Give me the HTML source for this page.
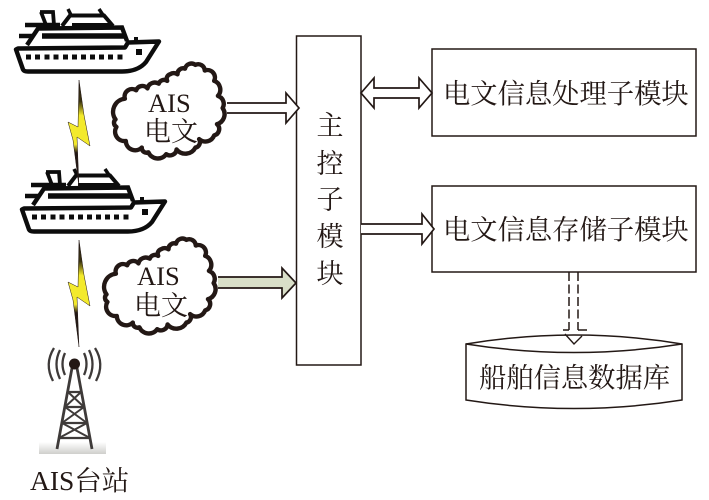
<!DOCTYPE html>
<html>
<head>
<meta charset="utf-8">
<style>
html,body{margin:0;padding:0;background:#fff;}
svg{display:block;}
text{fill:#231815;font-family:"Liberation Serif","Noto Serif CJK SC",serif;}
</style>
</head>
<body>
<svg width="709" height="500" viewBox="0 0 709 500" xmlns="http://www.w3.org/2000/svg">
<defs>
<linearGradient id="g" x1="0" y1="0" x2="0" y2="1"><stop offset="0" stop-color="#fff"/><stop offset="1" stop-color="#cfcfcc"/></linearGradient>
<linearGradient id="bolt" x1="0" y1="0" x2="0" y2="1">
<stop offset="0" stop-color="#231815"/><stop offset="0.2" stop-color="#3a3210"/><stop offset="0.33" stop-color="#f3ea2c"/><stop offset="0.6" stop-color="#f3ea2c"/><stop offset="0.68" stop-color="#231815"/><stop offset="1" stop-color="#231815"/>
</linearGradient>
<g id="ship" fill="none" stroke="#0c0c0c" stroke-width="4.400">
<path d="M16 49.500 L23 69.500 Q24 71.500 28 71.500 L122 71.500 Q138 71.500 146 62 L159 41.500 L128 42.500 L125 47.500 L18 48.500 Z" fill="#fff" stroke-linejoin="round"/>
<path d="M27 45 L38 28.500 L122 27.500 L127 41"/>
<path d="M42 36 L125 36" stroke-width="5.500"/>
<path d="M25 25 L60 25 M19 36 L34 36" stroke-width="4.500"/>
<path d="M41 12 L46 25 M40 12 L53 12 L54 25" stroke-width="3.800"/>
<path d="M62 26 L70 15.500 L104 15.500 L113 26" stroke-width="4"/>
<path d="M72 25.500 L111 25.500" stroke-width="5"/>
<path d="M68 9 L71 15 M99 9 L103 15" stroke-width="3.500"/>
<g fill="#0c0c0c" stroke="none">
<rect x="26" y="54.500" width="5" height="5"/><rect x="35" y="54.500" width="5" height="5"/><rect x="44.500" y="54.500" width="5" height="5"/><rect x="53.500" y="54.500" width="5" height="5"/><rect x="63" y="54.500" width="5" height="5"/><rect x="72" y="54.500" width="5" height="5"/><rect x="81" y="54.500" width="5" height="5"/><rect x="90" y="54.500" width="5" height="5"/><rect x="99" y="54.500" width="5" height="5"/><rect x="108" y="54.500" width="5" height="5"/><rect x="117.500" y="54.500" width="5" height="5"/>
<rect x="136" y="49" width="6" height="6"/>
<rect x="134" y="37" width="4" height="4"/>
</g>
</g>
<g id="cloud" transform="translate(170 110) scale(.94) translate(-170 -110)">
<path d="M112 120 A14 14 0 0 1 122 98 A8 8 0 0 1 134 89 A7 7 0 0 1 146 87 A8 8 0 0 1 158 82 A6 6 0 0 1 167 79 A5 5 0 0 1 170 72 A7 7 0 0 1 178 72 A6 6 0 0 1 186 66 A7 7 0 0 1 197 62 A7 7 0 0 1 207 68 A8 8 0 0 1 217 79 A10 10 0 0 1 221 95 A9 9 0 0 1 226 108 A11 11 0 0 1 220 125 A7 7 0 0 1 217 137 A10 10 0 0 1 201 141 A6 6 0 0 1 197 150 A12 12 0 0 1 177 152 A7 7 0 0 1 166 157 A11 11 0 0 1 147 155 A5 5 0 0 1 140 150 A10 10 0 0 1 123 143 A10 10 0 0 1 113 128 A5 5 0 0 1 112 120 Z" fill="#fff" stroke="#231815" stroke-width="4.700" stroke-linejoin="round"/>
</g>
</defs>

<use href="#ship"/>
<use href="#ship" x="6" y="160"/>

<path d="M79 80 L84 115 L90 146 L77 137 L79 187 L73 140 L68 122 L78 127 Z" fill="url(#bolt)" stroke="#231815" stroke-width="0.500"/>
<path d="M79 240 L84 275 L90 306 L77 297 L79 347 L73 300 L68 282 L78 287 Z" fill="url(#bolt)" stroke="#231815" stroke-width="0.500"/>

<!-- tower -->
<rect x="39" y="442" width="67" height="12" fill="url(#g)"/>
<g fill="none" stroke="#3e3a39" stroke-width="2.300">
<path d="M72 368 L57 449 M77 368 L92 449" stroke-width="2.800"/>
<path d="M68 392 L81 392 M65 407 L84 407 M62 423 L87 423 M59 438 L90 438" stroke-width="2.300"/>
<path d="M68 392 L84 407 M81 392 L65 407 M65 407 L87 423 M84 407 L62 423 M62 423 L90 438 M87 423 L59 438" stroke-width="2"/>
<path d="M65 353 Q60 364 65 375"/>
<path d="M60 350 Q53 364 60 379"/>
<path d="M54 348 Q44 364 53 381"/>
<path d="M84 353 Q89 364 84 375"/>
<path d="M89 350 Q96 364 89 379"/>
<path d="M95 348 Q105 364 96 381"/>
</g>
<circle cx="74.500" cy="364" r="5.500" fill="#231815"/>
<text x="30" y="490" font-size="27.500">AIS台站</text>

<!-- clouds -->
<use href="#cloud"/>
<use href="#cloud" x="-9" y="175"/>
<text x="148" y="112" font-size="26.500">AIS</text>
<text x="144" y="141" font-size="27">电文</text>
<text x="137" y="285" font-size="26.500">AIS</text>
<text x="134" y="315" font-size="27">电文</text>

<!-- main box -->
<rect x="296.500" y="36" width="64.500" height="329" fill="#fff" stroke="#231815" stroke-width="1.500"/>
<g font-size="27" text-anchor="middle">
<text x="330" y="135">主</text>
<text x="330" y="173">控</text>
<text x="330" y="209">子</text>
<text x="330" y="246">模</text>
<text x="330" y="283">块</text>
</g>

<!-- boxes -->
<rect x="432" y="49" width="264" height="87" fill="#fff" stroke="#231815" stroke-width="1.500"/>
<rect x="432" y="186" width="264" height="86" fill="#fff" stroke="#231815" stroke-width="1.500"/>
<text x="443" y="103" font-size="27.300">电文信息处理子模块</text>
<text x="443" y="239" font-size="27.300">电文信息存储子模块</text>

<!-- arrows -->
<g stroke="#231815" stroke-width="1.700" fill="#fff" stroke-linejoin="miter">
<path d="M361 93 L374 78 L374 88 L419 88 L419 78 L432 93 L419 108 L419 98 L374 98 L374 108 Z"/>
<path d="M361 224 L422 224 L422 214 L434 229 L422 244 L422 234 L361 234"/>
<path d="M227 103 L286 103 L286 93 L299 108 L286 123 L286 113 L227 113"/>
<path d="M218 277 L282 277 L282 268 L296 283 L282 298 L282 288 L218 288" fill="#d9dfc8"/>
</g>

<!-- dashed arrow -->
<g stroke="#231815" stroke-width="1.500" fill="none">
<path d="M569 272 L569 330 M578 272 L578 330" stroke-dasharray="9 3.500"/>
<path d="M563 330 L569 330 M578 330 L587 330"/>
</g>

<!-- database -->
<path d="M466 344 Q574 326 682 344 L682 400 Q574 417 466 400 Z" fill="#fff" stroke="#231815" stroke-width="1.500"/>
<path d="M466 344 Q574 361 682 344" fill="none" stroke="#231815" stroke-width="1.500"/>
<path d="M565 334 L574 344 L582 336" fill="none" stroke="#231815" stroke-width="1.400"/>
<text x="479" y="387" font-size="27.300">船舶信息数据库</text>
</svg>
</body>
</html>
